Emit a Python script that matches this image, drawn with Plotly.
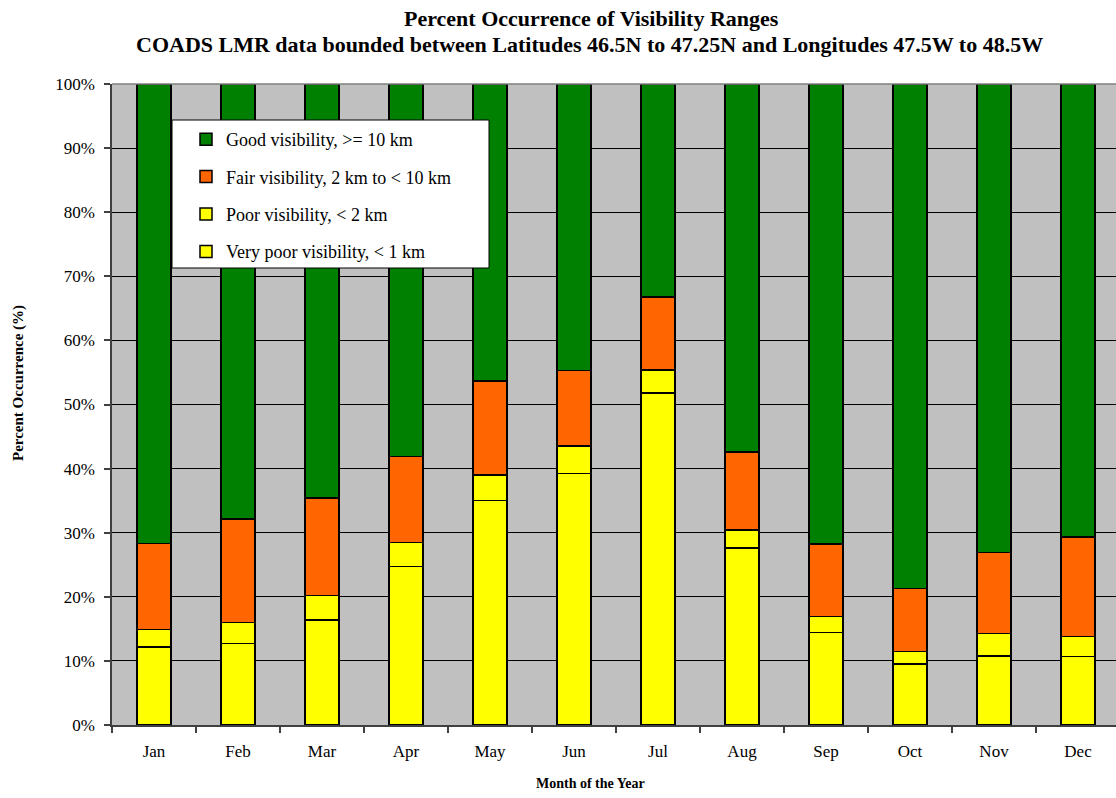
import plotly.graph_objects as go

# Monthly percent occurrence of each visibility class (segment heights, %)
months = ["Jan", "Feb", "Mar", "Apr", "May", "Jun",
          "Jul", "Aug", "Sep", "Oct", "Nov", "Dec"]
very_poor = [12.2, 12.7, 16.4, 24.7, 35.0, 39.2, 51.8, 27.6, 14.4, 9.5, 10.8, 10.7]
poor = [2.7, 3.3, 3.8, 3.8, 4.0, 4.3, 3.6, 2.8, 2.5, 2.0, 3.5, 3.1]
fair = [13.4, 16.1, 15.2, 13.4, 14.7, 11.8, 11.4, 12.2, 11.3, 9.8, 12.6, 15.5]
good = [71.7, 67.9, 64.6, 58.1, 46.3, 44.7, 33.2, 57.4, 71.8, 78.7, 73.1, 70.7]

# (legend label, values, fill colour, legend rank) - bottom of the stack first
series = [
    ("Very poor visibility, < 1 km", very_poor, "#FFFF00", 4),
    ("Poor visibility, < 2 km", poor, "#FFFF00", 3),
    ("Fair visibility, 2 km to < 10 km", fair, "#FF6600", 2),
    ("Good visibility, >= 10 km", good, "#008000", 1),
]

FONT = "Liberation Serif, Times New Roman, serif"

fig = go.Figure()
for name, vals, color, rank in series:
    fig.add_trace(go.Bar(
        x=months, y=vals, name=name, legendgroup=name, legendrank=rank,
        marker=dict(color=color, line=dict(color="#000000", width=1.5)),
    ))

W, H = 1116, 798
ml, mt, mb = 112, 84, 73
plot_w = W - ml
plot_h = H - mt - mb


def px_x(x):
    return (x - ml) / plot_w


def px_y(y):
    return (H - mb - y) / plot_h


fig.update_layout(
    width=W, height=H,
    margin=dict(l=ml, r=0, t=mt, b=mb, pad=0),
    barmode="stack",
    bargap=0.595,
    plot_bgcolor="#C0C0C0",
    paper_bgcolor="#FFFFFF",
    font=dict(family=FONT, size=16, color="#000000"),
    showlegend=True,
    legend=dict(
        x=px_x(186), y=px_y(121), xanchor="left", yanchor="top",
        bgcolor="rgba(0,0,0,0)", borderwidth=0,
        font=dict(family=FONT, size=18),
        traceorder="grouped", tracegroupgap=11,
        itemclick=False,
    ),
    shapes=[dict(
        type="rect", xref="paper", yref="paper", layer="above",
        x0=px_x(172), x1=px_x(489), y0=px_y(268), y1=px_y(120),
        fillcolor="#FFFFFF", line=dict(color="#000000", width=1),
    )],
    annotations=[
        dict(text="<b>Percent Occurrence of Visibility Ranges</b>",
             xref="paper", yref="paper", x=px_x(591), y=px_y(18),
             xanchor="center", yanchor="middle", showarrow=False,
             font=dict(family=FONT, size=22)),
        dict(text="<b>COADS LMR data bounded between Latitudes 46.5N to 47.25N "
                  "and Longitudes 47.5W to 48.5W</b>",
             xref="paper", yref="paper", x=px_x(589), y=px_y(44),
             xanchor="center", yanchor="middle", showarrow=False,
             font=dict(family=FONT, size=22)),
        dict(text="<b>Month of the Year</b>",
             xref="paper", yref="paper", x=px_x(590), y=px_y(783),
             xanchor="center", yanchor="middle", showarrow=False,
             font=dict(family=FONT, size=14)),
        dict(text="<b>Percent Occurrence (%)</b>",
             xref="paper", yref="paper", x=px_x(18), y=px_y(383),
             xanchor="center", yanchor="middle", showarrow=False, textangle=-90,
             font=dict(family=FONT, size=15)),
    ],
)

fig.update_xaxes(
    type="category", range=[-0.5, 11.5 - 4 / 84],
    showgrid=False, showline=True, linecolor="#404040", linewidth=1.5,
    mirror=False, ticks="outside", tickson="boundaries", ticklen=6,
    tickcolor="#404040", tickwidth=1.5, ticklabelstandoff=10,
    tickfont=dict(family=FONT, size=17),
)
fig.update_yaxes(
    range=[0, 100], dtick=10, ticksuffix="%",
    showgrid=True, gridcolor="#000000", gridwidth=1,
    showline=True, linecolor="#404040", linewidth=1.5,
    ticks="outside", ticklen=6, tickcolor="#404040", tickwidth=1.5,
    ticklabelstandoff=6,
    tickfont=dict(family=FONT, size=17), zeroline=False,
)

# thin grey frame along the top of the plotting area
fig.add_shape(type="line", xref="paper", yref="paper", x0=0, x1=1, y0=1, y1=1,
              line=dict(color="#808080", width=1.5), layer="above")

fig.write_html("out.html")
